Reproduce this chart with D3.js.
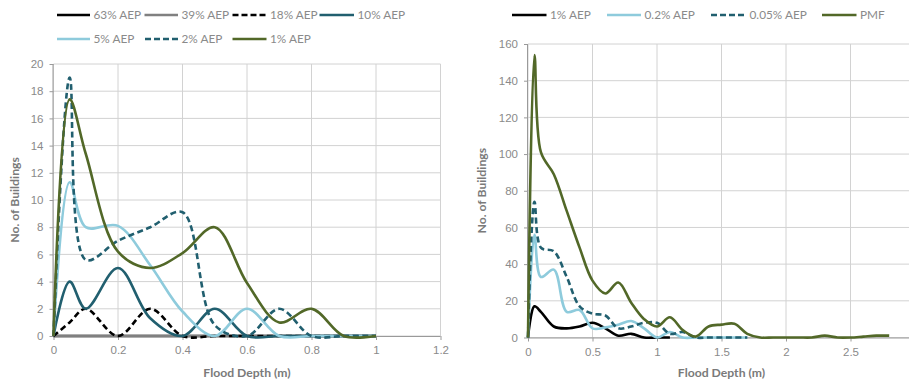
<!DOCTYPE html>
<html>
<head>
<meta charset="utf-8">
<script src="https://cdn.jsdelivr.net/npm/d3@7"></script>
<style>
  html, body { margin: 0; padding: 0; background: #fff; }
  svg { display: block; font-family: Lato, "Open Sans", "Liberation Sans", sans-serif; }
</style>
</head>
<body>
<svg id="chart" width="909" height="380"></svg>
<script>
// ---- Left panel: frequent events ----
const leftDepth = [0, 0.05, 0.1, 0.2, 0.3, 0.4, 0.5, 0.6, 0.7, 0.8, 0.9, 1.0];
const aep63 = [0, 0, 0, 0, 0, 0, 0, 0, 0, 0, 0, 0];
const aep39 = [0, 0, 0, 0, 0, 0, 0, 0, 0, 0, 0, 0];
const aep18 = [0, 1, 2, 0, 2, 0, 0, 0, 0, 0, 0, 0];
const aep10 = [0, 4, 2, 5, 1.3, 0, 2, 0, 0, 0, 0, 0];
const aep5  = [0, 11.3, 8, 8.1, 5.2, 1.8, 0, 2, 0, 0, 0, 0];
const aep2  = [0, 19, 5.6, 7, 8, 9.1, 0.8, 0, 2, 0, 0, 0];
const aep1L = [0, 17.4, 13.4, 6.2, 5, 6.1, 8, 3.9, 1, 2, 0, 0];
const leftXTicks = [0, 0.2, 0.4, 0.6, 0.8, 1, 1.2];
const leftYTicks = [0, 2, 4, 6, 8, 10, 12, 14, 16, 18, 20];

// ---- Right panel: rare events ----
const rightDepth = [0, 0.05, 0.1, 0.2, 0.3, 0.4, 0.5, 0.6, 0.7, 0.8, 0.9, 1.0,
  1.1, 1.2, 1.3, 1.4, 1.5, 1.6, 1.7, 1.8, 1.9, 2.0, 2.1, 2.2, 2.3, 2.4, 2.5, 2.6, 2.7, 2.8];
const aep1R  = [0, 17, 14, 6, 5, 6, 8, 5, 1, 2, 0, 0, 0];
const aep02  = [0, 56, 33, 37, 14, 15, 5, 5.5, 7, 9, 5, 0, 3, 0, 0, 0, 0, 0, 0];
const aep005 = [0, 74, 49, 47, 33, 17, 13, 12, 5, 6, 8, 8, 2, 3, 0, 0, 0, 0, 0];
const pmf    = [0, 154, 101, 89, 69, 49, 31, 24, 30, 19, 10, 6, 11, 4, 0.5, 6, 7, 7.5, 2,
  0, 0, 0, 0, 0, 1, 0, 0, 0.5, 1, 1];
const rightXTicks = [0, 0.5, 1, 1.5, 2, 2.5, 3];
const rightYTicks = [0, 20, 40, 60, 80, 100, 120, 140, 160];

const C = {
  black: "#000000",
  grey: "#808080",
  teal: "#215f6f",
  light: "#8ecbdc",
  olive: "#526828"
};

const svg = d3.select("#chart");

function panel(cfg) {
  const x = d3.scaleLinear().domain(cfg.xDomain).range(cfg.xRange);
  const y = d3.scaleLinear().domain(cfg.yDomain).range(cfg.yRange);
  const g = svg.append("g");

  // gridlines
  g.append("g").selectAll("line.v").data(cfg.xTicks).join("line")
    .attr("x1", d => x(d)).attr("x2", d => x(d))
    .attr("y1", cfg.yRange[0]).attr("y2", cfg.yRange[1])
    .attr("stroke", "#d2d2d2").attr("stroke-width", 1);
  g.append("g").selectAll("line.h").data(cfg.yTicks).join("line")
    .attr("x1", cfg.xRange[0]).attr("x2", cfg.xRange[1])
    .attr("y1", d => y(d)).attr("y2", d => y(d))
    .attr("stroke", "#d2d2d2").attr("stroke-width", 1);

  // axes
  const xAxis = d3.axisBottom(x).tickValues(cfg.xTicks.filter(t => x(t) < 905))
    .tickSize(4).tickPadding(6).tickFormat(d3.format("~g"));
  const yAxis = d3.axisLeft(y).tickValues(cfg.yTicks).tickSize(4).tickPadding(6)
    .tickFormat(d3.format("~g"));
  const gx = g.append("g").attr("transform", `translate(0,${cfg.yRange[0]})`).call(xAxis);
  const gy = g.append("g").attr("transform", `translate(${cfg.xRange[0]},0)`).call(yAxis);
  [gx, gy].forEach(a => {
    a.select(".domain").attr("stroke", "#9a9a9a").attr("stroke-width", 1);
    a.selectAll(".tick line").attr("stroke", "#9a9a9a");
    a.selectAll(".tick text").attr("fill", "#8a8a8a").attr("font-size", 11.5);
  });
  gx.select(".domain").attr("d", `M${cfg.xRange[0]},0.5H${cfg.xRange[1]}`);
  gy.select(".domain").attr("d", `M-0.5,${cfg.yRange[0]}V${cfg.yRange[1]}`);

  // axis titles
  g.append("text")
    .attr("x", (cfg.xRange[0] + Math.min(cfg.xRange[1], 915)) / 2)
    .attr("y", 377)
    .attr("text-anchor", "middle")
    .attr("font-size", 12.2).attr("font-weight", "bold").attr("fill", "#7a7a7a")
    .text("Flood Depth (m)");
  const cy = (cfg.yRange[0] + cfg.yRange[1]) / 2;
  g.append("text")
    .attr("transform", `translate(${cfg.yTitleX},${cy}) rotate(-90)`)
    .attr("text-anchor", "middle")
    .attr("font-size", 12.2).attr("font-weight", "bold").attr("fill", "#7a7a7a")
    .text("No. of Buildings");

  // series
  const line = d3.line()
    .x(d => x(d[0])).y(d => y(d[1]))
    .curve(d3.curveCatmullRom.alpha(0.5));
  cfg.series.forEach(s => {
    const pts = s.values.map((v, i) => [cfg.depth[i], v]);
    g.append("path")
      .attr("d", line(pts))
      .attr("fill", "none")
      .attr("stroke", s.color)
      .attr("stroke-width", 2.6)
      .attr("stroke-linejoin", "round")
      .attr("stroke-dasharray", s.dash ? "6,3.5" : null);
  });

  // legend
  cfg.series.forEach(s => {
    const lg = g.append("g").attr("transform", `translate(${s.lx},${s.ly})`);
    lg.append("line").attr("x1", 0).attr("x2", s.lw)
      .attr("stroke", s.color).attr("stroke-width", 2.6)
      .attr("stroke-dasharray", s.dash ? "6,3" : null);
    lg.append("text").attr("x", s.lw + 3.5).attr("y", 4)
      .attr("font-size", 11.8).attr("fill", "#8a8a8a")
      .text(s.name);
  });
}

panel({
  depth: leftDepth,
  xDomain: [0, 1.2], xRange: [53.5, 440.5],
  yDomain: [0, 20], yRange: [336, 64],
  xTicks: leftXTicks, yTicks: leftYTicks,
  yTitleX: 19,
  series: [
    { name: "63% AEP", values: aep63, color: C.black, lx: 57, ly: 15, lw: 33 },
    { name: "39% AEP", values: aep39, color: C.grey, lx: 144.5, ly: 15, lw: 33.5 },
    { name: "18% AEP", values: aep18, color: C.black, dash: true, lx: 232.5, ly: 15, lw: 34 },
    { name: "10% AEP", values: aep10, color: C.teal, lx: 319.5, ly: 15, lw: 34.5 },
    { name: "5% AEP", values: aep5, color: C.light, lx: 57, ly: 39, lw: 33 },
    { name: "2% AEP", values: aep2, color: C.teal, dash: true, lx: 145, ly: 39, lw: 33 },
    { name: "1% AEP", values: aep1L, color: C.olive, lx: 232.5, ly: 39, lw: 34 }
  ]
});

panel({
  depth: rightDepth,
  xDomain: [0, 3], xRange: [528, 915],
  yDomain: [0, 160], yRange: [337.5, 44],
  xTicks: rightXTicks, yTicks: rightYTicks,
  yTitleX: 486,
  series: [
    { name: "1% AEP", values: aep1R, color: C.black, lx: 512, ly: 15, lw: 34.5 },
    { name: "0.2% AEP", values: aep02, color: C.light, lx: 607, ly: 15, lw: 34 },
    { name: "0.05% AEP", values: aep005, color: C.teal, dash: true, lx: 711, ly: 15, lw: 35 },
    { name: "PMF", values: pmf, color: C.olive, lx: 822, ly: 15, lw: 34.5 }
  ]
});
</script>
</body>
</html>
